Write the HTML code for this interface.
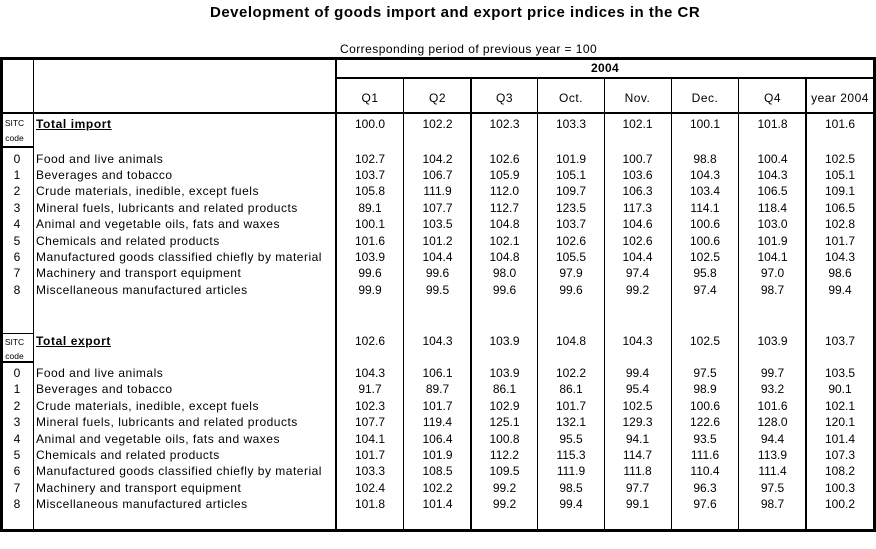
<!DOCTYPE html>
<html><head><meta charset="utf-8">
<style>
html,body{margin:0;padding:0;background:#fff;}
body{width:876px;height:549px;position:relative;overflow:hidden;font-family:"Liberation Sans",Arial,sans-serif;font-size:12px;color:#000;}
.k{position:absolute;background:#000;}
.t{position:absolute;white-space:nowrap;}
.r{position:absolute;left:0;height:14px;line-height:14px;display:flex;white-space:nowrap;}
.r>span{display:block;text-align:center;letter-spacing:0;flex:none;}
.r>span:nth-child(1){width:34px;letter-spacing:0;}
.r>span:nth-child(2){width:300px;padding-left:2px;text-align:left;letter-spacing:.5px;}
.r>span:nth-child(3){width:68px}
.r>span:nth-child(4){width:67px}
.r>span:nth-child(5){width:67px}
.r>span:nth-child(6){width:66px}
.r>span:nth-child(7){width:67px}
.r>span:nth-child(8){width:68px}
.r>span:nth-child(9){width:67px}
.r>span:nth-child(10){width:68px}
.r>span.b{font-weight:bold;text-decoration:underline;letter-spacing:.6px;}
.h>span{letter-spacing:.5px;}
.s{position:absolute;left:0;width:29px;text-align:center;font-size:8.5px;line-height:10px;height:10px;}
</style></head><body>

<div class="t" style="left:210px;top:5px;font-size:15px;line-height:15px;font-weight:bold;letter-spacing:.5px;">Development of goods import and export price indices in the CR</div>
<div class="t" style="left:340px;top:42px;line-height:14px;letter-spacing:.45px;">Corresponding period of previous year = 100</div>

<!-- outer border -->
<div class="k" style="left:0;top:57px;width:876px;height:3px"></div>
<div class="k" style="left:0;top:529px;width:876px;height:3px"></div>
<div class="k" style="left:0;top:57px;width:3px;height:475px"></div>
<div class="k" style="left:873px;top:57px;width:3px;height:475px"></div>

<!-- verticals -->
<div class="k" style="left:33px;top:59px;width:1px;height:471px"></div>
<div class="k" style="left:335px;top:59px;width:2px;height:471px"></div>
<div class="k" style="left:403px;top:78px;width:1px;height:452px"></div>
<div class="k" style="left:470px;top:78px;width:2px;height:452px"></div>
<div class="k" style="left:537px;top:78px;width:1px;height:452px"></div>
<div class="k" style="left:604px;top:78px;width:1px;height:452px"></div>
<div class="k" style="left:671px;top:78px;width:1px;height:452px"></div>
<div class="k" style="left:738px;top:78px;width:1px;height:452px"></div>
<div class="k" style="left:805px;top:78px;width:2px;height:452px"></div>

<!-- horizontals -->
<div class="k" style="left:336px;top:77px;width:538px;height:2px"></div>
<div class="k" style="left:0;top:112px;width:876px;height:2px"></div>
<div class="k" style="left:0;top:146px;width:34px;height:2px"></div>
<div class="k" style="left:0;top:333px;width:34px;height:1px"></div>
<div class="k" style="left:0;top:361px;width:34px;height:2px"></div>

<!-- header -->
<div class="t" style="left:336px;width:538px;text-align:center;top:61px;line-height:14px;font-weight:bold;letter-spacing:.3px;">2004</div>
<div class="r h" style="top:91px"><span></span><span></span><span>Q1</span><span>Q2</span><span>Q3</span><span>Oct.</span><span>Nov.</span><span>Dec.</span><span>Q4</span><span>year 2004</span></div>

<!-- import -->
<div class="s" style="top:118px">SITC</div>
<div class="s" style="top:133px">code</div>
<div class="r" style="top:117px"><span></span><span class="b">Total import</span><span>100.0</span><span>102.2</span><span>102.3</span><span>103.3</span><span>102.1</span><span>100.1</span><span>101.8</span><span>101.6</span></div>
<div class="r" style="top:152px"><span>0</span><span>Food and live animals</span><span>102.7</span><span>104.2</span><span>102.6</span><span>101.9</span><span>100.7</span><span>98.8</span><span>100.4</span><span>102.5</span></div>
<div class="r" style="top:168px"><span>1</span><span>Beverages and tobacco</span><span>103.7</span><span>106.7</span><span>105.9</span><span>105.1</span><span>103.6</span><span>104.3</span><span>104.3</span><span>105.1</span></div>
<div class="r" style="top:184px"><span>2</span><span>Crude materials, inedible, except fuels</span><span>105.8</span><span>111.9</span><span>112.0</span><span>109.7</span><span>106.3</span><span>103.4</span><span>106.5</span><span>109.1</span></div>
<div class="r" style="top:201px"><span>3</span><span>Mineral fuels, lubricants and related products</span><span>89.1</span><span>107.7</span><span>112.7</span><span>123.5</span><span>117.3</span><span>114.1</span><span>118.4</span><span>106.5</span></div>
<div class="r" style="top:217px"><span>4</span><span>Animal and vegetable oils, fats and waxes</span><span>100.1</span><span>103.5</span><span>104.8</span><span>103.7</span><span>104.6</span><span>100.6</span><span>103.0</span><span>102.8</span></div>
<div class="r" style="top:234px"><span>5</span><span>Chemicals and related products</span><span>101.6</span><span>101.2</span><span>102.1</span><span>102.6</span><span>102.6</span><span>100.6</span><span>101.9</span><span>101.7</span></div>
<div class="r" style="top:250px"><span>6</span><span>Manufactured goods classified chiefly by material</span><span>103.9</span><span>104.4</span><span>104.8</span><span>105.5</span><span>104.4</span><span>102.5</span><span>104.1</span><span>104.3</span></div>
<div class="r" style="top:266px"><span>7</span><span>Machinery and transport equipment</span><span>99.6</span><span>99.6</span><span>98.0</span><span>97.9</span><span>97.4</span><span>95.8</span><span>97.0</span><span>98.6</span></div>
<div class="r" style="top:283px"><span>8</span><span>Miscellaneous manufactured articles</span><span>99.9</span><span>99.5</span><span>99.6</span><span>99.6</span><span>99.2</span><span>97.4</span><span>98.7</span><span>99.4</span></div>

<!-- export -->
<div class="s" style="top:337px">SITC</div>
<div class="s" style="top:351px">code</div>
<div class="r" style="top:334px"><span></span><span class="b">Total export</span><span>102.6</span><span>104.3</span><span>103.9</span><span>104.8</span><span>104.3</span><span>102.5</span><span>103.9</span><span>103.7</span></div>
<div class="r" style="top:366px"><span>0</span><span>Food and live animals</span><span>104.3</span><span>106.1</span><span>103.9</span><span>102.2</span><span>99.4</span><span>97.5</span><span>99.7</span><span>103.5</span></div>
<div class="r" style="top:382px"><span>1</span><span>Beverages and tobacco</span><span>91.7</span><span>89.7</span><span>86.1</span><span>86.1</span><span>95.4</span><span>98.9</span><span>93.2</span><span>90.1</span></div>
<div class="r" style="top:399px"><span>2</span><span>Crude materials, inedible, except fuels</span><span>102.3</span><span>101.7</span><span>102.9</span><span>101.7</span><span>102.5</span><span>100.6</span><span>101.6</span><span>102.1</span></div>
<div class="r" style="top:415px"><span>3</span><span>Mineral fuels, lubricants and related products</span><span>107.7</span><span>119.4</span><span>125.1</span><span>132.1</span><span>129.3</span><span>122.6</span><span>128.0</span><span>120.1</span></div>
<div class="r" style="top:432px"><span>4</span><span>Animal and vegetable oils, fats and waxes</span><span>104.1</span><span>106.4</span><span>100.8</span><span>95.5</span><span>94.1</span><span>93.5</span><span>94.4</span><span>101.4</span></div>
<div class="r" style="top:448px"><span>5</span><span>Chemicals and related products</span><span>101.7</span><span>101.9</span><span>112.2</span><span>115.3</span><span>114.7</span><span>111.6</span><span>113.9</span><span>107.3</span></div>
<div class="r" style="top:464px"><span>6</span><span>Manufactured goods classified chiefly by material</span><span>103.3</span><span>108.5</span><span>109.5</span><span>111.9</span><span>111.8</span><span>110.4</span><span>111.4</span><span>108.2</span></div>
<div class="r" style="top:481px"><span>7</span><span>Machinery and transport equipment</span><span>102.4</span><span>102.2</span><span>99.2</span><span>98.5</span><span>97.7</span><span>96.3</span><span>97.5</span><span>100.3</span></div>
<div class="r" style="top:497px"><span>8</span><span>Miscellaneous manufactured articles</span><span>101.8</span><span>101.4</span><span>99.2</span><span>99.4</span><span>99.1</span><span>97.6</span><span>98.7</span><span>100.2</span></div>

</body></html>
